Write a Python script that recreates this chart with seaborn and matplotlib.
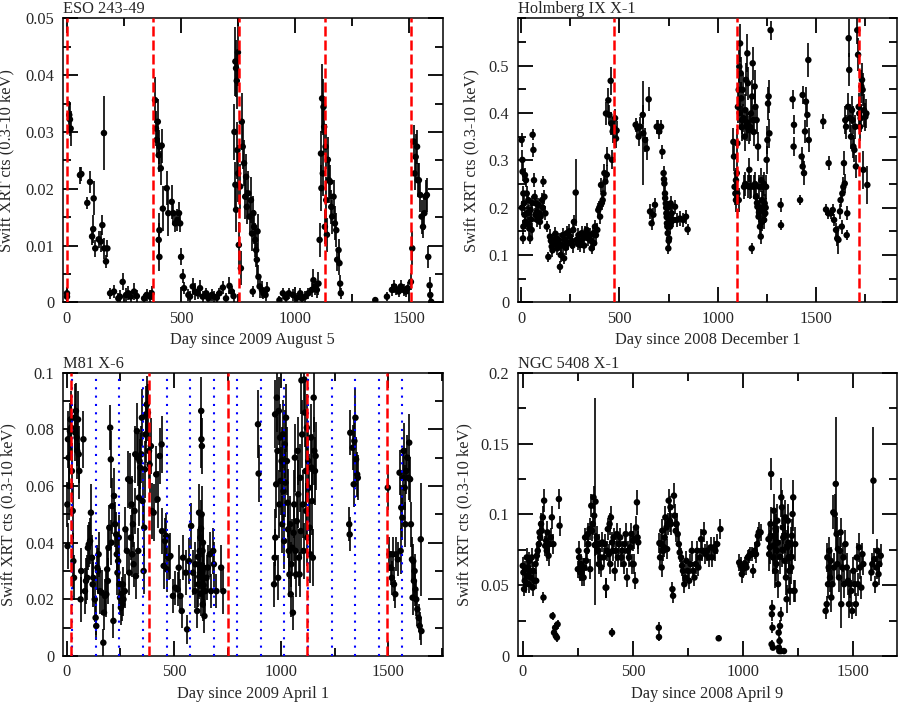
import numpy as np
import pandas as pd
import matplotlib
matplotlib.use('Agg')
import matplotlib.pyplot as plt
import seaborn as sns
from matplotlib.ticker import MultipleLocator, FixedLocator, FuncFormatter

# ---------------- ESO 243-49 ----------------
eso_day = [0, 0, 10, 13, 16, 57, 63, 89, 101, 110, 115, 117, 124, 139, 148, 155, 162, 164, 171, 177,
           189, 206, 225, 232, 244, 259, 269, 279, 294, 306, 338, 349, 364, 371,
           386, 390, 393, 398, 402, 405, 411, 415, 420, 402, 405, 405, 437, 444, 459, 466, 474, 484, 491, 496, 500, 507, 513,
           532, 539, 551, 561, 572, 583, 595, 610, 620, 635, 645, 656, 668, 683, 697, 712, 722, 730,
           734, 738, 741, 744, 738, 741, 747, 749, 750, 753, 759, 762, 766, 770, 776, 781, 785, 788, 794, 800,
           806, 811, 814, 817, 820, 825, 829, 832, 835, 839, 844, 854, 861, 870, 876,
           931, 946, 960, 972, 990, 1007, 1022, 1029, 1044, 1058, 1073, 1080, 1088, 1095, 1102,
           1107, 1113, 1115, 1118, 1121, 1124, 1127, 1130, 1133, 1136, 1139, 1143, 1148, 1154, 1158, 1162, 1168, 1174, 1180, 1184,
           1190, 1194, 1197, 1200,
           1351, 1402, 1424, 1434, 1443, 1453, 1463, 1475, 1484, 1493,
           1507, 1513, 1519, 1523, 1528, 1534, 1537, 1542, 1548, 1554, 1560, 1566, 1571, 1577, 1583, 1589, 1592, 1596]
eso_rate = [0.0016, 0.001, 0.033, 0.0322, 0.0306, 0.0224, 0.0226, 0.0175, 0.0212, 0.0116,
            0.0129, 0.0183, 0.0095, 0.0111, 0.0107, 0.0136, 0.0298, 0.0095, 0.0072, 0.0095,
            0.0016, 0.0019, 0.0007, 0.001, 0.0036, 0.0013, 0.0016, 0.001, 0.0019, 0.0011, 0.0007, 0.0013, 0.001, 0.0016,
            0.0356, 0.0306, 0.0286, 0.0318, 0.0259, 0.0274, 0.0236, 0.0276, 0.0165, 0.011,
            0.008, 0.0127, 0.0201, 0.0157, 0.0177, 0.0157, 0.0139, 0.0145, 0.0157, 0.0139, 0.008, 0.0046, 0.0025,
            0.0013, 0.001, 0.0028, 0.0019, 0.0016, 0.0025, 0.001, 0.0016, 0.0007, 0.0013,
            0.001, 0.0008, 0.0016, 0.0026, 0.0007, 0.0029, 0.0019, 0.0011,
            0.03, 0.0424, 0.0412, 0.039, 0.0207, 0.0163, 0.0268, 0.044, 0.0227, 0.0101,
            0.0204, 0.006, 0.0318, 0.0274, 0.0245, 0.0186, 0.0221, 0.0168, 0.0192, 0.0151,
            0.018, 0.0121, 0.0019, 0.0157, 0.0133, 0.011, 0.0092, 0.0075, 0.0125, 0.0045,
            0.0028, 0.0022, 0.0016, 0.0013, 0.0023,
            0.0004, 0.0016, 0.0008, 0.0016, 0.0013, 0.0008, 0.0016, 0.0007, 0.001, 0.0016, 0.0022, 0.0039, 0.0028, 0.0022, 0.0033,
            0.011, 0.0262, 0.0201, 0.0359, 0.0227, 0.0344, 0.0309, 0.0133, 0.0274, 0.018,
            0.0119, 0.0251, 0.0215, 0.0212, 0.0168, 0.0151, 0.0186, 0.0139, 0.0127, 0.0075,
            0.0092, 0.0069, 0.0033, 0.0016,
            0.0004, 0.001, 0.0022, 0.0028, 0.0023, 0.0019, 0.0028, 0.0022, 0.0019, 0.0025,
            0.0036, 0.0095, 0.0283, 0.0227, 0.0256, 0.0274, 0.0215, 0.0215, 0.0189, 0.0151,
            0.0133, 0.0157, 0.0186, 0.0189, 0.008, 0.003, 0.0013, 0.0001]
eso_err = [0.001, 0.0008, 0.0025, 0.003, 0.003, 0.0015, 0.0012, 0.001, 0.002, 0.0015,
           0.0025, 0.003, 0.0015, 0.0015, 0.0018, 0.0018, 0.0065, 0.0018, 0.0012, 0.0015,
           0.001, 0.0012, 0.001, 0.0012, 0.0015, 0.0012, 0.0012, 0.001, 0.0015, 0.001, 0.0008, 0.001, 0.0012, 0.0012,
           0.004, 0.003, 0.003, 0.004, 0.003, 0.003, 0.003, 0.003, 0.004, 0.003,
           0.0025, 0.003, 0.003, 0.004, 0.003, 0.002, 0.0015, 0.002, 0.002, 0.0015, 0.0015, 0.0012, 0.001,
           0.001, 0.001, 0.0015, 0.0015, 0.001, 0.0015, 0.001, 0.001, 0.001, 0.001,
           0.001, 0.001, 0.001, 0.0012, 0.001, 0.0015, 0.001, 0.001,
           0.005, 0.006, 0.005, 0.005, 0.004, 0.004, 0.005, 0.006, 0.005, 0.004,
           0.004, 0.003, 0.005, 0.004, 0.004, 0.004, 0.004, 0.003, 0.004, 0.003,
           0.004, 0.003, 0.001, 0.003, 0.003, 0.003, 0.003, 0.003, 0.003, 0.002,
           0.002, 0.0015, 0.001, 0.001, 0.0012,
           0.0008, 0.001, 0.0008, 0.001, 0.001, 0.0008, 0.001, 0.0008, 0.001, 0.001, 0.0012, 0.002, 0.0015, 0.0015, 0.002,
           0.003, 0.004, 0.004, 0.006, 0.004, 0.005, 0.005, 0.003, 0.004, 0.004,
           0.003, 0.004, 0.004, 0.003, 0.003, 0.003, 0.003, 0.003, 0.003, 0.002,
           0.002, 0.002, 0.0015, 0.001,
           0.0005, 0.0008, 0.001, 0.0012, 0.001, 0.001, 0.0012, 0.001, 0.001, 0.001,
           0.0015, 0.003, 0.003, 0.003, 0.004, 0.003, 0.003, 0.003, 0.003, 0.003,
           0.002, 0.003, 0.003, 0.003, 0.002, 0.0015, 0.001, 0.0008]
eso_red = [0, 376, 754, 1131, 1507]

# ---------------- Holmberg IX X-1 ----------------
hol_day = [3, 7, 8, 12, 15, 12, 10, 20, 25, 29, 32, 37, 42, 46, 49, 54, 59, 63, 66, 69,
           73, 76, 83, 88, 93, 100, 107, 114, 119, 124, 131, 5, 18, 22, 34, 40, 52, 57, 80, 96,
           110,
           139, 147, 156, 164, 171, 178, 185, 192, 198, 205, 212, 219, 225, 232, 241, 249, 258, 266, 269, 278,
           283, 292, 300, 308, 317, 325, 334, 342, 351, 359, 368, 376, 381, 388,
           152, 160, 175, 188, 202, 215, 228, 245, 262, 288, 304, 321, 338, 355, 372,
           393, 402, 407, 415, 419, 424, 429, 432, 439, 444, 449, 456, 459, 463, 466, 473, 478, 483, 486, 398, 411, 436,
           583, 592, 598, 605, 619, 622, 631, 639, 649, 656, 664, 673, 681, 690, 698, 703, 712, 719, 725, 729,
           732, 736, 739, 742, 746, 749, 753, 756, 761, 766, 775, 783, 792, 808, 825, 839, 847,
           727, 733, 738, 741, 744, 748, 751, 758, 764,
           1080, 1083, 1086, 1090, 1093, 1097, 1100, 1103, 1107, 1110,
           1114, 1117, 1120, 1124, 1127, 1131, 1134, 1137, 1141, 1144,
           1147, 1151, 1154, 1158, 1161, 1164, 1169, 1173, 1175, 1178,
           1181, 1185, 1188, 1192, 1195, 1198, 1202, 1205, 1208, 1212,
           1215, 1219, 1222, 1225, 1229, 1232, 1236, 1239, 1242, 1246,
           1249, 1253, 1256, 1259, 1263, 1269,
           1093, 1100, 1107, 1112, 1122, 1140, 1150, 1156, 1166, 1170,
           1183, 1190, 1200, 1210, 1217, 1226, 1235, 1244,
           1320, 1322, 1381, 1388, 1386, 1419, 1432, 1427, 1432, 1439, 1444, 1449, 1456, 1461, 1463,
           1537, 1564, 1551, 1563, 1575, 1585, 1592, 1602, 1608, 1614,
           1622, 1625, 1631, 1634, 1639, 1642, 1646, 1649, 1653, 1656,
           1659, 1663, 1666, 1669, 1673, 1678, 1683, 1686, 1690, 1695,
           1700, 1703, 1710, 1714, 1717, 1720, 1724, 1727, 1731, 1734,
           1737, 1741, 1744, 1751, 1756, 1761]
hol_rate = [0.343, 0.301, 0.276, 0.23, 0.209, 0.16, 0.135, 0.269, 0.258, 0.23,
            0.188, 0.216, 0.156, 0.135, 0.195, 0.153, 0.354, 0.322, 0.258, 0.223,
            0.185, 0.209, 0.174, 0.206, 0.188, 0.181, 0.216, 0.255, 0.223, 0.188,
            0.16, 0.2, 0.185, 0.17, 0.165, 0.19, 0.175, 0.21, 0.19, 0.17,
            0.2,
            0.096, 0.139, 0.118, 0.132, 0.125, 0.135, 0.114, 0.132, 0.075, 0.121,
            0.142, 0.093, 0.132, 0.146, 0.125, 0.139, 0.128, 0.153, 0.17, 0.232,
            0.132, 0.142, 0.121, 0.146, 0.135, 0.146, 0.153, 0.135, 0.142, 0.114,
            0.146, 0.16, 0.142, 0.153,
            0.13, 0.11, 0.145, 0.125, 0.1, 0.12, 0.115, 0.15, 0.12, 0.125,
            0.13, 0.12, 0.145, 0.13, 0.125,
            0.195, 0.181, 0.248, 0.216, 0.23, 0.273, 0.255, 0.399, 0.308, 0.427,
            0.396, 0.468, 0.378, 0.301, 0.361, 0.368, 0.389, 0.346, 0.363, 0.2, 0.21, 0.27,
            0.375, 0.368, 0.35, 0.371, 0.396, 0.357, 0.343, 0.325, 0.429, 0.192,
            0.167, 0.185, 0.206, 0.371, 0.371, 0.361, 0.371, 0.318, 0.273, 0.251,
            0.23, 0.209, 0.188, 0.167, 0.146, 0.114, 0.135, 0.174, 0.209, 0.188,
            0.174, 0.202, 0.174, 0.177, 0.174, 0.181, 0.154,
            0.26, 0.22, 0.2, 0.18, 0.16, 0.2, 0.13, 0.16, 0.17,
            0.339, 0.308, 0.244, 0.23, 0.216, 0.273, 0.336, 0.413, 0.449, 0.498,
            0.547, 0.484, 0.431, 0.385, 0.449, 0.389, 0.244, 0.35, 0.406, 0.47,
            0.371, 0.526, 0.463, 0.364, 0.28, 0.244, 0.399, 0.114, 0.435, 0.505,
            0.385, 0.244, 0.456, 0.413, 0.223, 0.385, 0.202, 0.329, 0.181, 0.244,
            0.16, 0.139, 0.258, 0.216, 0.244, 0.195, 0.174, 0.209, 0.188, 0.244,
            0.301, 0.343, 0.42, 0.435, 0.357, 0.575,
            0.258, 0.23, 0.216, 0.4, 0.37, 0.25, 0.38, 0.245, 0.37, 0.245,
            0.36, 0.25, 0.21, 0.19, 0.2, 0.17, 0.25, 0.2,
            0.206, 0.163, 0.429, 0.375, 0.329, 0.216, 0.438, 0.308, 0.287, 0.273, 0.361, 0.424, 0.396, 0.512, 0.343,
            0.382, 0.294, 0.196, 0.188, 0.188, 0.195, 0.174, 0.153, 0.135, 0.132,
            0.192, 0.216, 0.16, 0.23, 0.244, 0.294, 0.251, 0.385, 0.371, 0.142,
            0.188, 0.413, 0.558, 0.491, 0.389, 0.35, 0.406, 0.385, 0.329, 0.322,
            0.371, 0.287, 0.575, 0.523, 0.413, 0.399, 0.371, 0.389, 0.456, 0.47,
            0.449, 0.28, 0.406, 0.392, 0.399, 0.248]
hol_err = [0.015, 0.02, 0.02, 0.015, 0.015, 0.015, 0.012, 0.015, 0.015, 0.015,
           0.015, 0.015, 0.015, 0.012, 0.015, 0.015, 0.012, 0.015, 0.015, 0.015,
           0.015, 0.015, 0.015, 0.015, 0.015, 0.015, 0.015, 0.012, 0.015, 0.015,
           0.012, 0.015, 0.015, 0.015, 0.015, 0.015, 0.015, 0.015, 0.015, 0.015,
           0.015,
           0.01, 0.015, 0.015, 0.015, 0.015, 0.015, 0.015, 0.015, 0.012, 0.015,
           0.015, 0.012, 0.015, 0.015, 0.015, 0.015, 0.015, 0.015, 0.015, 0.07,
           0.015, 0.015, 0.015, 0.015, 0.015, 0.015, 0.015, 0.015, 0.015, 0.012,
           0.015, 0.015, 0.015, 0.015,
           0.015, 0.015, 0.015, 0.015, 0.015, 0.015, 0.015, 0.015, 0.015, 0.015,
           0.015, 0.015, 0.015, 0.015, 0.015,
           0.015, 0.015, 0.015, 0.015, 0.015, 0.02, 0.02, 0.025, 0.02, 0.025,
           0.02, 0.03, 0.025, 0.02, 0.025, 0.025, 0.02, 0.02, 0.02, 0.015, 0.015, 0.02,
           0.015, 0.015, 0.02, 0.02, 0.02, 0.11, 0.025, 0.025, 0.025, 0.015,
           0.015, 0.015, 0.015, 0.015, 0.015, 0.015, 0.015, 0.015, 0.015, 0.015,
           0.015, 0.015, 0.015, 0.015, 0.015, 0.012, 0.015, 0.015, 0.015, 0.015,
           0.015, 0.015, 0.015, 0.015, 0.015, 0.015, 0.012,
           0.015, 0.015, 0.015, 0.015, 0.015, 0.015, 0.015, 0.015, 0.015,
           0.03, 0.03, 0.03, 0.025, 0.025, 0.03, 0.03, 0.035, 0.035, 0.035,
           0.04, 0.035, 0.035, 0.03, 0.035, 0.03, 0.025, 0.03, 0.035, 0.035,
           0.03, 0.04, 0.035, 0.03, 0.025, 0.025, 0.035, 0.012, 0.035, 0.035,
           0.03, 0.025, 0.035, 0.035, 0.025, 0.03, 0.02, 0.03, 0.02, 0.025,
           0.02, 0.015, 0.025, 0.02, 0.025, 0.02, 0.02, 0.02, 0.02, 0.025,
           0.03, 0.03, 0.035, 0.035, 0.03, 0.02,
           0.025, 0.025, 0.025, 0.03, 0.03, 0.025, 0.03, 0.025, 0.03, 0.025,
           0.03, 0.025, 0.02, 0.02, 0.02, 0.02, 0.025, 0.02,
           0.015, 0.01, 0.02, 0.02, 0.02, 0.01, 0.02, 0.02, 0.02, 0.025, 0.025, 0.03, 0.025, 0.035, 0.025,
           0.015, 0.015, 0.012, 0.012, 0.012, 0.012, 0.012, 0.015, 0.015, 0.03,
           0.015, 0.015, 0.015, 0.015, 0.02, 0.025, 0.02, 0.03, 0.025, 0.01,
           0.015, 0.03, 0.04, 0.035, 0.03, 0.025, 0.03, 0.03, 0.025, 0.025,
           0.025, 0.025, 0.03, 0.035, 0.03, 0.03, 0.03, 0.03, 0.035, 0.035,
           0.035, 0.04, 0.035, 0.03, 0.03, 0.04]
hol_red = [475, 1097, 1718]

# ---------------- M81 X-6 ----------------
m81_day = [2, 3, 5, 8, 11, 14, 17, 20, 23, 27,
           30, 33, 36, 39, 42, 45, 48, 52, 55, 58,
           64, 67, 77, 84, 89, 95, 98, 102, 108, 112,
           117, 120, 123, 130, 134, 137, 142, 145, 148, 155,
           162, 170, 173, 178, 184, 188, 191, 194, 198, 202,
           205, 208, 211, 217, 220, 225, 230, 233, 236, 239,
           242, 245, 248, 252, 255, 258, 261, 264, 270, 273,
           280, 286, 292, 295, 298, 302, 305, 308, 311, 316,
           319, 322, 327, 330, 333, 336, 339, 342, 347, 350,
           353, 358, 361, 364, 367, 370, 373, 378, 383, 386,
           392, 397, 405, 417, 423, 433, 442, 444, 452, 458,
           463, 467, 475, 483, 495, 506, 517, 522, 530, 536,
           542, 555, 561, 570, 580, 589, 598, 600, 608, 614,
           617, 620, 623, 627, 628, 630, 623, 631, 633, 634,
           636, 639, 642, 645, 652, 658, 667, 673, 683, 686,
           698, 720, 730, 612, 618, 624, 626, 629, 632, 635,
           638, 892, 895,
           967, 970, 972, 973, 977, 980, 983, 986, 989, 992,
           995, 998, 1002, 1005, 1008, 1011, 1014, 1017, 1020, 1023,
           1027, 1030, 1033, 1036, 1039, 1042, 1045, 1048, 1052, 1055,
           1058, 1061, 1064, 1067, 1070, 1073, 1077, 1080, 1083, 1086,
           1089, 1092, 1095, 1098, 1102, 1105, 1108, 1111, 1114, 1117,
           1120, 1123, 1127, 1130, 1133, 1136, 1139, 1142, 1145, 1148,
           1152, 1155, 1158, 1161,
           1318, 1320, 1323, 1334, 1339, 1342, 1347, 1350, 1355, 1358,
           1498, 1506, 1511, 1517, 1522, 1527, 1533, 1538, 1545, 1553,
           1558, 1561, 1566, 1569, 1572, 1577, 1580, 1584, 1589, 1595,
           1598, 1602, 1606, 1611, 1614, 1617, 1620, 1623, 1627, 1631,
           1636, 1642, 1647, 1655, 1652]
m81_rate = [0.0535, 0.0388, 0.0765, 0.07, 0.06, 0.0794, 0.0835, 0.0806, 0.0653, 0.0512,
            0.0335, 0.0276, 0.0841, 0.0788, 0.0865, 0.0771, 0.0724, 0.0835, 0.0712, 0.0653,
            0.02, 0.03, 0.0765, 0.0229, 0.0265, 0.0276, 0.0382, 0.0394, 0.0406, 0.0506,
            0.0347, 0.0253, 0.0276, 0.02, 0.0135, 0.0106, 0.0312, 0.03, 0.0359, 0.0229,
            0.0224, 0.0047, 0.0153, 0.0212, 0.0218, 0.0306, 0.0265, 0.0382, 0.0453, 0.0806,
            0.0694, 0.04, 0.0529, 0.0124, 0.0565, 0.0465, 0.0429, 0.0359, 0.0294, 0.0335,
            0.0418, 0.0253, 0.0206, 0.0171, 0.0218, 0.0182, 0.0253, 0.02, 0.0229, 0.0447,
            0.0371, 0.0624, 0.0294, 0.0618, 0.0418, 0.0535, 0.0359, 0.0465, 0.0324, 0.0512,
            0.0712, 0.0282, 0.0794, 0.07, 0.0371, 0.0559, 0.0688, 0.0665, 0.0712, 0.0841,
            0.0547, 0.03, 0.0453, 0.0659, 0.0782, 0.0853, 0.0888, 0.0859, 0.0724, 0.0676,
            0.0741, 0.0512, 0.0506, 0.0641, 0.0553, 0.0706, 0.0747, 0.0441, 0.0318, 0.0406,
            0.0424, 0.0306, 0.0347, 0.0353, 0.0212, 0.0241, 0.0235, 0.0312, 0.0212, 0.0159,
            0.0347, 0.0294, 0.0094, 0.0335, 0.0459, 0.0294, 0.0229, 0.0324, 0.0159, 0.0253,
            0.0506, 0.0371, 0.0318, 0.0865, 0.0765, 0.0741, 0.0418, 0.0253, 0.0371, 0.0182,
            0.0276, 0.0312, 0.0141, 0.0229, 0.0276, 0.0312, 0.0359, 0.0229, 0.0371, 0.0324,
            0.0229, 0.0312, 0.0229, 0.035, 0.028, 0.022, 0.045, 0.05, 0.03, 0.04,
            0.025, 0.0818, 0.0644,
            0.0253, 0.0347, 0.0853, 0.0418, 0.0606, 0.0912, 0.0724, 0.0276, 0.0865, 0.0535,
            0.0771, 0.0618, 0.0688, 0.0465, 0.0782, 0.0582, 0.0406, 0.0747, 0.0612, 0.0841,
            0.0688, 0.0541, 0.0447, 0.0371, 0.0288, 0.0465, 0.0218, 0.0324, 0.0382, 0.0153,
            0.0435, 0.0535, 0.07, 0.0371, 0.0288, 0.0476, 0.0724, 0.0571, 0.0347, 0.0288,
            0.0629, 0.0441, 0.0973, 0.0782, 0.0535, 0.0371, 0.0976, 0.0859, 0.0653, 0.0512,
            0.0806, 0.0418, 0.0688, 0.0594, 0.0453, 0.0359, 0.0771, 0.0665, 0.0547, 0.0347,
            0.0912, 0.0724, 0.0653, 0.0706,
            0.0465, 0.0429, 0.0788, 0.0735, 0.0606, 0.0759, 0.0841, 0.0694, 0.0641, 0.0629,
            0.0594, 0.0359, 0.0312, 0.0276, 0.0359, 0.0253, 0.0218, 0.0359, 0.0341, 0.0647,
            0.0371, 0.0524, 0.0488, 0.0629, 0.0724, 0.0594, 0.0465, 0.0653, 0.07, 0.0629,
            0.0753, 0.0624, 0.0465, 0.0341, 0.0206, 0.0335, 0.0265, 0.03, 0.0235, 0.02,
            0.0165, 0.0135, 0.0106, 0.0088, 0.0412]
m81_err = [0.008, 0.008, 0.01, 0.01, 0.012, 0.01, 0.01, 0.01, 0.01, 0.01,
           0.01, 0.008, 0.012, 0.01, 0.01, 0.01, 0.01, 0.01, 0.01, 0.01,
           0.008, 0.008, 0.01, 0.008, 0.008, 0.008, 0.008, 0.008, 0.008, 0.01,
           0.008, 0.008, 0.008, 0.008, 0.006, 0.005, 0.008, 0.008, 0.008, 0.008,
           0.008, 0.005, 0.006, 0.006, 0.008, 0.008, 0.008, 0.008, 0.008, 0.008,
           0.01, 0.008, 0.01, 0.006, 0.01, 0.008, 0.008, 0.008, 0.008, 0.008,
           0.008, 0.008, 0.006, 0.006, 0.006, 0.006, 0.006, 0.006, 0.006, 0.008,
           0.008, 0.01, 0.008, 0.01, 0.008, 0.01, 0.008, 0.008, 0.008, 0.008,
           0.01, 0.008, 0.01, 0.01, 0.008, 0.01, 0.01, 0.01, 0.01, 0.01,
           0.01, 0.008, 0.01, 0.01, 0.01, 0.01, 0.01, 0.01, 0.01, 0.01,
           0.01, 0.01, 0.01, 0.01, 0.01, 0.01, 0.01, 0.008, 0.008, 0.008,
           0.008, 0.008, 0.008, 0.008, 0.006, 0.006, 0.006, 0.008, 0.006, 0.006,
           0.008, 0.008, 0.005, 0.008, 0.008, 0.008, 0.006, 0.008, 0.006, 0.008,
           0.01, 0.008, 0.008, 0.012, 0.01, 0.01, 0.008, 0.008, 0.008, 0.006,
           0.008, 0.008, 0.006, 0.008, 0.008, 0.008, 0.008, 0.006, 0.008, 0.008,
           0.006, 0.008, 0.008, 0.01, 0.008, 0.008, 0.01, 0.01, 0.008, 0.01,
           0.008, 0.012, 0.01,
           0.008, 0.01, 0.012, 0.01, 0.012, 0.012, 0.012, 0.008, 0.012, 0.012,
           0.012, 0.012, 0.012, 0.01, 0.012, 0.012, 0.01, 0.012, 0.012, 0.012,
           0.012, 0.012, 0.01, 0.01, 0.008, 0.01, 0.008, 0.008, 0.01, 0.006,
           0.01, 0.012, 0.012, 0.01, 0.008, 0.01, 0.012, 0.012, 0.01, 0.008,
           0.012, 0.01, 0.012, 0.012, 0.012, 0.01, 0.012, 0.012, 0.012, 0.01,
           0.012, 0.01, 0.012, 0.012, 0.01, 0.01, 0.012, 0.012, 0.012, 0.01,
           0.012, 0.012, 0.012, 0.012,
           0.006, 0.006, 0.008, 0.008, 0.008, 0.008, 0.01, 0.008, 0.008, 0.008,
           0.008, 0.006, 0.006, 0.006, 0.006, 0.006, 0.005, 0.006, 0.006, 0.008,
           0.008, 0.008, 0.008, 0.01, 0.01, 0.008, 0.008, 0.008, 0.008, 0.008,
           0.01, 0.008, 0.008, 0.008, 0.006, 0.006, 0.006, 0.006, 0.006, 0.006,
           0.006, 0.005, 0.005, 0.005, 0.02]
m81_red = [17, 384, 750, 1122, 1492]
m81_blue = [24, 134, 244, 356, 465, 574, 686, 795, 904, 1014, 1125, 1236, 1344, 1456, 1565]

# ---------------- NGC 5408 X-1 ----------------
ngc_day = [0, 3, 6, 9, 12, 15, 18, 21, 24, 27,
           30, 33, 36, 41, 45, 48, 53, 58, 61, 64,
           68, 73, 76, 79, 83, 86, 91, 94, 97, 102,
           106, 109, 112, 117, 121, 127, 132, 135, 139, 142,
           147, 150, 155, 158, 164, 167,
           250, 253, 256, 261, 264, 268, 273, 276, 280, 283,
           288, 291, 295, 298, 303, 306, 311, 314, 318, 321,
           324, 327, 330, 333, 336, 341, 345, 348, 352, 356,
           361, 367, 371, 376, 379, 382, 386, 391, 394, 397,
           400, 405, 405, 409, 412, 417, 421, 427, 432, 436,
           442, 447, 452, 458, 462, 467, 473, 477, 482, 488,
           492, 497, 500, 503, 506, 511, 514, 518, 521, 524,
           617, 618, 620, 623, 627, 630, 633, 638, 641, 644,
           647, 652, 655, 658, 662, 667, 670, 673, 679, 682,
           686, 689, 694, 698, 703, 708, 712, 718, 723, 727,
           733, 738, 742, 748, 755, 761, 767, 773, 779, 785,
           791, 797, 803, 809, 815, 821, 829, 836, 844, 852,
           859, 867, 874, 882, 889, 897,
           982, 988, 994, 998, 1003, 1009, 1015, 1021, 1027, 1033,
           1041, 1045, 1052, 1058, 1064, 1067, 1071, 1079,
           1115, 1118, 1121, 1124, 1127, 1129, 1130, 1132, 1133, 1135,
           1136, 1139, 1142, 1145, 1148, 1152, 1155, 1158, 1161, 1162,
           1164, 1165, 1167, 1170, 1171, 1173, 1176, 1179, 1182, 1185,
           1188, 1191, 1194, 1197, 1200, 1203, 1206, 1209, 1212, 1215,
           1218, 1221, 1224, 1227, 1230, 1233, 1236,
           1125, 1138, 1146, 1150, 1157, 1168, 1178, 1190, 1205, 1220,
           1374, 1379, 1382, 1385, 1388, 1391, 1394, 1397, 1400, 1405,
           1409, 1412, 1415, 1420, 1424, 1427, 1430, 1435, 1439, 1442,
           1445, 1450, 1455, 1458, 1464, 1470, 1476, 1480, 1485, 1491,
           1495, 1500, 1506, 1511, 1515, 1521, 1526, 1530, 1536, 1541,
           1545,
           1582, 1586, 1591, 1595, 1600, 1605, 1609, 1614, 1618, 1624]
ngc_rate = [0.0637, 0.059, 0.0472, 0.0531, 0.0613, 0.0507, 0.0696, 0.0566, 0.0625, 0.0507,
            0.0672, 0.0601, 0.0554, 0.0696, 0.0483, 0.0601, 0.0531, 0.0649, 0.0531, 0.0708,
            0.0743, 0.079, 0.0873, 0.0837, 0.0932, 0.0884, 0.0979, 0.0413, 0.1097, 0.0778,
            0.0814, 0.0743, 0.0873, 0.0708, 0.079, 0.0837, 0.0979, 0.0283, 0.079, 0.0165,
            0.02, 0.0142, 0.013, 0.0224, 0.1108, 0.092,
            0.0613, 0.0743, 0.0696, 0.059, 0.0649, 0.0554, 0.0625, 0.0554, 0.0625, 0.0837,
            0.0672, 0.0743, 0.0861, 0.079, 0.0896, 0.0613, 0.1061, 0.0884, 0.0932, 0.112,
            0.0991, 0.0783, 0.109, 0.079, 0.0837, 0.0743, 0.0649, 0.079, 0.0696, 0.0625,
            0.0802, 0.0696, 0.079, 0.0483, 0.0483, 0.0743, 0.0896, 0.0719, 0.0932, 0.0649,
            0.0979, 0.0802, 0.0165, 0.0743, 0.0837, 0.0601, 0.0743, 0.0861, 0.0696, 0.079,
            0.0837, 0.0696, 0.0743, 0.0649, 0.079, 0.0861, 0.0554, 0.0743, 0.0696, 0.0767,
            0.0861, 0.0649, 0.0814, 0.0649, 0.0825, 0.0531, 0.0908, 0.1085, 0.0837, 0.0802,
            0.02, 0.0134, 0.0797, 0.0696, 0.079, 0.0625, 0.0884, 0.0743, 0.0767, 0.0837,
            0.0979, 0.0908, 0.0755, 0.0932, 0.1097, 0.0955, 0.105, 0.0932, 0.0472, 0.0425,
            0.1132, 0.0991, 0.0884, 0.0932, 0.0861, 0.079, 0.0731, 0.0696, 0.0637, 0.0601,
            0.0507, 0.0554, 0.0672, 0.0601, 0.0531, 0.0649, 0.0743, 0.0601, 0.0554, 0.0649,
            0.0743, 0.0625, 0.0696, 0.0825, 0.0743, 0.0873, 0.0719, 0.0743, 0.0696, 0.0767,
            0.0696, 0.0767, 0.0743, 0.079, 0.0125, 0.0896,
            0.066, 0.0637, 0.0578, 0.0613, 0.0625, 0.0649, 0.0625, 0.0696, 0.0708, 0.0719,
            0.0719, 0.0601, 0.0743, 0.0719, 0.079, 0.0849, 0.0873, 0.0873,
            0.0825, 0.0719, 0.0767, 0.0932, 0.1285, 0.0083, 0.0295, 0.0342, 0.02, 0.0059,
            0.0696, 0.1026, 0.0837, 0.0601, 0.0884, 0.0743, 0.0955, 0.0507, 0.0165, 0.0059,
            0.0035, 0.0106, 0.0212, 0.0295, 0.0035, 0.112, 0.105, 0.0908, 0.0837, 0.0035,
            0.0672, 0.0979, 0.0554, 0.0401, 0.0767, 0.0955, 0.0696, 0.0601, 0.046, 0.079,
            0.0625, 0.0849, 0.1002, 0.112, 0.046, 0.046, 0.079,
            0.085, 0.078, 0.09, 0.065, 0.08, 0.07, 0.075, 0.085, 0.08, 0.07,
            0.0318, 0.0366, 0.0696, 0.0507, 0.0625, 0.0743, 0.0554, 0.0672, 0.0413, 0.0507,
            0.1014, 0.0625, 0.1002, 0.1215, 0.0861, 0.0649, 0.0755, 0.0554, 0.0743, 0.0873,
            0.0366, 0.0625, 0.0696, 0.0507, 0.079, 0.0625, 0.0531, 0.0366, 0.0507, 0.046,
            0.0318, 0.0601, 0.0507, 0.0366, 0.0696, 0.0507, 0.0767, 0.0625, 0.0483, 0.0719,
            0.0649,
            0.059, 0.0649, 0.1238, 0.0684, 0.0507, 0.0625, 0.0743, 0.0578, 0.0649, 0.0708]
ngc_err = [0.006, 0.006, 0.005, 0.006, 0.006, 0.006, 0.007, 0.006, 0.006, 0.006,
           0.006, 0.006, 0.006, 0.007, 0.006, 0.006, 0.006, 0.007, 0.006, 0.007,
           0.007, 0.007, 0.008, 0.007, 0.008, 0.007, 0.008, 0.004, 0.008, 0.007,
           0.007, 0.007, 0.008, 0.007, 0.007, 0.007, 0.008, 0.003, 0.007, 0.003,
           0.003, 0.003, 0.003, 0.003, 0.007, 0.007,
           0.006, 0.007, 0.007, 0.006, 0.007, 0.006, 0.007, 0.006, 0.007, 0.007,
           0.007, 0.007, 0.008, 0.007, 0.008, 0.007, 0.008, 0.007, 0.008, 0.008,
           0.008, 0.008, 0.073, 0.008, 0.008, 0.007, 0.007, 0.007, 0.007, 0.007,
           0.007, 0.007, 0.007, 0.007, 0.007, 0.007, 0.008, 0.007, 0.008, 0.007,
           0.008, 0.007, 0.003, 0.007, 0.007, 0.007, 0.007, 0.008, 0.007, 0.007,
           0.007, 0.007, 0.007, 0.007, 0.007, 0.008, 0.007, 0.007, 0.007, 0.007,
           0.008, 0.007, 0.007, 0.007, 0.007, 0.006, 0.008, 0.009, 0.008, 0.008,
           0.004, 0.003, 0.007, 0.007, 0.007, 0.007, 0.008, 0.007, 0.007, 0.008,
           0.008, 0.008, 0.007, 0.008, 0.008, 0.008, 0.008, 0.008, 0.005, 0.005,
           0.009, 0.008, 0.008, 0.008, 0.008, 0.007, 0.007, 0.007, 0.007, 0.007,
           0.006, 0.006, 0.007, 0.006, 0.006, 0.007, 0.007, 0.006, 0.006, 0.007,
           0.007, 0.006, 0.007, 0.007, 0.007, 0.007, 0.007, 0.007, 0.007, 0.007,
           0.007, 0.007, 0.007, 0.007, 0.002, 0.007,
           0.006, 0.006, 0.006, 0.006, 0.005, 0.005, 0.005, 0.005, 0.005, 0.005,
           0.005, 0.005, 0.006, 0.006, 0.006, 0.006, 0.007, 0.006,
           0.012, 0.012, 0.012, 0.012, 0.011, 0.003, 0.005, 0.005, 0.004, 0.002,
           0.012, 0.012, 0.012, 0.012, 0.012, 0.012, 0.012, 0.01, 0.004, 0.002,
           0.002, 0.003, 0.004, 0.005, 0.002, 0.014, 0.012, 0.012, 0.012, 0.002,
           0.012, 0.012, 0.012, 0.01, 0.012, 0.012, 0.012, 0.012, 0.01, 0.012,
           0.012, 0.012, 0.012, 0.012, 0.008, 0.008, 0.012,
           0.012, 0.012, 0.012, 0.012, 0.012, 0.012, 0.012, 0.012, 0.012, 0.012,
           0.006, 0.006, 0.01, 0.01, 0.01, 0.01, 0.01, 0.01, 0.01, 0.01,
           0.012, 0.01, 0.014, 0.047, 0.012, 0.01, 0.01, 0.01, 0.01, 0.01,
           0.017, 0.01, 0.01, 0.01, 0.01, 0.01, 0.01, 0.01, 0.01, 0.008,
           0.006, 0.01, 0.008, 0.008, 0.01, 0.008, 0.01, 0.008, 0.008, 0.008,
           0.008,
           0.006, 0.008, 0.038, 0.008, 0.006, 0.008, 0.008, 0.008, 0.008, 0.008]

YLABEL = 'Swift XRT cts (0.3-10 keV)'

sns.set_style('ticks')
plt.rcParams['font.family'] = ['Liberation Serif', 'DejaVu Serif']
plt.rcParams['axes.linewidth'] = 1.1


def draw_panel(ax, day, rate, err, name, xlabel, xlim, ylim, ymaj, ymin, ylabel_x,
               red, blue=(), ytop=None):
    df = pd.DataFrame({'day': day, 'rate': rate, 'err': err})
    ax.errorbar(df['day'], df['rate'], yerr=df['err'], fmt='none',
                ecolor='black', elinewidth=1.2, capsize=0, zorder=2)
    sns.scatterplot(data=df, x='day', y='rate', ax=ax, color='black', s=22,
                    edgecolor='none', linewidth=0, zorder=3, legend=False)
    for d in blue:
        ax.axvline(d, color='blue', lw=1.5, ls=(0, (1, 3)), zorder=4)
    for d in red:
        ax.axvline(d, color='red', lw=1.8, ls=(0, (4, 1.6)), zorder=5)

    ax.set_xlim(*xlim)
    ax.set_ylim(*ylim)
    ax.xaxis.set_major_locator(MultipleLocator(500))
    ax.xaxis.set_minor_locator(MultipleLocator(250))
    if ytop is None:
        ax.yaxis.set_major_locator(MultipleLocator(ymaj))
    else:
        ax.yaxis.set_major_locator(FixedLocator(np.arange(0, ytop + 1e-9, ymaj)))
    ax.yaxis.set_minor_locator(MultipleLocator(ymin))
    fmt = FuncFormatter(lambda v, p: f'{v:g}')
    ax.xaxis.set_major_formatter(fmt)
    ax.yaxis.set_major_formatter(fmt)
    # inward ticks on all four sides, long major and short minor
    ax.tick_params(axis='both', which='both', direction='in', top=True, right=True,
                   bottom=True, left=True, labelsize=11.8, color='black', width=1.3, pad=6)
    ax.tick_params(which='major', length=11)
    ax.tick_params(which='minor', length=5.8)
    for sp in ax.spines.values():
        sp.set_color('black')
        sp.set_linewidth(1.1)

    ax.set_xlabel(xlabel, fontsize=11.8, labelpad=4)
    ax.set_ylabel(YLABEL, fontsize=11.8)
    ax.yaxis.set_label_coords(ylabel_x, 0.5)
    ax.text(0.0, 1.004, name, transform=ax.transAxes, ha='left', va='bottom',
            fontsize=11.8)


fig = plt.figure(figsize=(9, 7.02), dpi=100)
ax1 = fig.add_axes([0.0696, 0.5693, 0.4222, 0.4046])
ax2 = fig.add_axes([0.5752, 0.5693, 0.4215, 0.4046])
ax3 = fig.add_axes([0.0696, 0.0655, 0.4222, 0.4036])
ax4 = fig.add_axes([0.5752, 0.0655, 0.4215, 0.4036])

draw_panel(ax1, eso_day, eso_rate, eso_err, 'ESO 243-49', 'Day since 2009 August 5',
           (-19, 1646), (0, 0.05), 0.01, 0.005, -0.126, eso_red)
draw_panel(ax2, hol_day, hol_rate, hol_err, 'Holmberg IX X-1', 'Day since 2008 December 1',
           (-17, 1912), (0, 0.6), 0.1, 0.05, -0.1, hol_red, ytop=0.5)
draw_panel(ax3, m81_day, m81_rate, m81_err, 'M81 X-6', 'Day since 2009 April 1',
           (-20, 1754), (0, 0.1), 0.02, 0.01, -0.123, m81_red, m81_blue)
draw_panel(ax4, ngc_day, ngc_rate, ngc_err, 'NGC 5408 X-1', 'Day since 2008 April 9',
           (-23, 1698), (0, 0.2), 0.05, 0.025, -0.119, [])

fig.savefig('out.png', dpi=100)
